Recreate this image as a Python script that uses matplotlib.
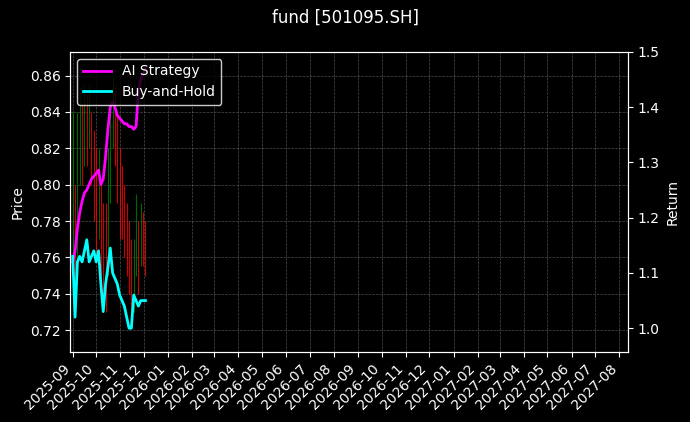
import matplotlib
matplotlib.use("Agg")
import matplotlib.pyplot as plt
import matplotlib.dates as mdates
import pandas as pd

dates = pd.date_range("2025-09-01", periods=32, freq="3D")
close = [0.78, 0.75, 0.80, 0.83, 0.82, 0.84, 0.83, 0.845, 0.82, 0.81,
         0.79, 0.80, 0.77, 0.76, 0.75, 0.79, 0.83, 0.845, 0.84, 0.81,
         0.80, 0.79, 0.78, 0.775, 0.76, 0.74, 0.75, 0.77, 0.76, 0.78,
         0.77, 0.765]
high = [0.84, 0.80, 0.84, 0.85, 0.845, 0.855, 0.85, 0.855, 0.84, 0.83,
        0.82, 0.82, 0.80, 0.79, 0.79, 0.82, 0.845, 0.86, 0.855, 0.84,
        0.82, 0.81, 0.80, 0.79, 0.78, 0.77, 0.77, 0.795, 0.78, 0.79,
        0.785, 0.78]
low = [0.75, 0.73, 0.75, 0.80, 0.80, 0.81, 0.81, 0.82, 0.80, 0.78,
       0.76, 0.77, 0.75, 0.74, 0.73, 0.75, 0.79, 0.82, 0.81, 0.79,
       0.77, 0.77, 0.76, 0.75, 0.74, 0.73, 0.73, 0.75, 0.74, 0.755,
       0.755, 0.75]
strategy = [1.12, 1.14, 1.18, 1.21, 1.23, 1.245, 1.25, 1.26, 1.27, 1.275,
            1.28, 1.286, 1.26, 1.27, 1.31, 1.36, 1.40, 1.41, 1.40, 1.385,
            1.38, 1.375, 1.37, 1.37, 1.365, 1.365, 1.36, 1.365, 1.43, 1.45,
            1.46, 1.47]
buyhold = [1.13, 1.02, 1.12, 1.13, 1.12, 1.14, 1.16, 1.12, 1.13, 1.14,
           1.12, 1.14, 1.08, 1.03, 1.08, 1.11, 1.145, 1.10, 1.09, 1.08,
           1.06, 1.05, 1.04, 1.02, 1.0, 1.0, 1.06, 1.05, 1.04, 1.05,
           1.05, 1.05]

plt.style.use("dark_background")
fig, ax = plt.subplots(figsize=(6.9, 4.22), dpi=100)
fig.patch.set_facecolor("black")
opens = [close[0]] + close[:-1]
for d, o, c, h, l in zip(dates, opens, close, high, low):
    ax.vlines(d, l, h, color="green" if c >= o else "red", linewidth=0.8, alpha=0.8)
ax.set_ylabel("Price")
ax.set_ylim(0.708, 0.873)
ax.grid(True, linestyle="--", linewidth=0.5, color="gray", alpha=0.6)

ax2 = ax.twinx()
ax2.plot(dates, strategy, color="magenta", lw=2, label="AI Strategy")
ax2.plot(dates, buyhold, color="cyan", lw=2, label="Buy-and-Hold")
ax2.set_ylim(0.957, 1.5)
ax2.set_ylabel("Return")
ax2.legend(loc="upper left", facecolor="black", edgecolor="white")

ax.set_xlim(pd.Timestamp("2025-08-29"), pd.Timestamp("2027-08-12"))
ax.xaxis.set_major_locator(mdates.MonthLocator())
ax.xaxis.set_major_formatter(mdates.DateFormatter("%Y-%m"))
plt.setp(ax.get_xticklabels(), rotation=45, ha="right")
fig.suptitle("fund [501095.SH]")
fig.subplots_adjust(left=0.102, right=0.91, top=0.877, bottom=0.166)
fig.savefig("out.png", dpi=100, facecolor="black")
